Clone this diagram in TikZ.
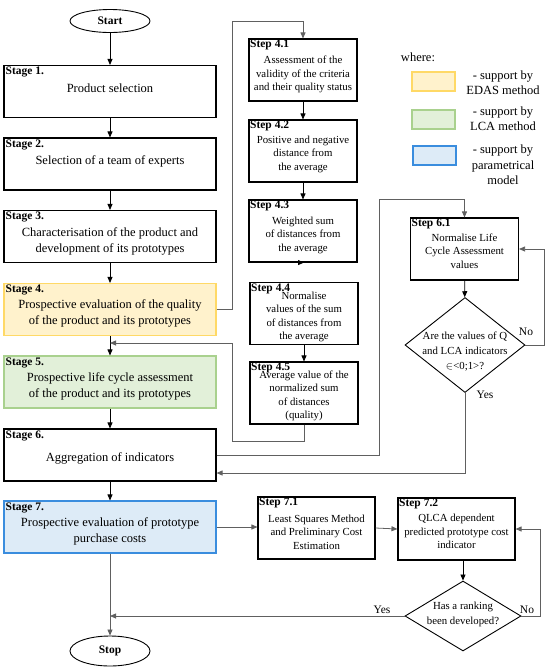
\documentclass[tikz,border=0pt]{standalone}
\usepackage{fontspec}
\setmainfont{Liberation Serif}
\usetikzlibrary{arrows.meta,shapes.geometric}
\definecolor{edasfill}{HTML}{FFF2CC}
\definecolor{edasline}{HTML}{FFD966}
\definecolor{lcafill}{HTML}{E2F0D9}
\definecolor{lcaline}{HTML}{A9D18E}
\definecolor{parfill}{HTML}{DDEBF7}
\definecolor{parline}{HTML}{3A8DDE}
\tikzset{
  stagebox/.style={draw,line width=1.1pt,minimum width=212pt,minimum height=52pt,inner sep=0pt},
  stepbox/.style={draw,line width=1.1pt,minimum width=108pt,minimum height=62pt,inner sep=0pt},
  termbox/.style={draw,ellipse,line width=0.9pt,minimum width=80pt,inner sep=0pt,font=\fontsize{11.5}{12}\selectfont\bfseries},
  askbox/.style={draw,diamond,line width=0.9pt,inner sep=0pt},
  stagelbl/.style={anchor=north west,inner sep=2pt,font=\fontsize{11.5}{12}\selectfont\bfseries},
  steplbl/.style={anchor=north west,inner sep=1.5pt,font=\fontsize{11.5}{12}\selectfont\bfseries},
  stagetxt/.style={align=center,inner sep=0pt,font=\fontsize{12.5}{16}\selectfont},
  steptxt/.style={align=center,inner sep=0pt,font=\fontsize{10.8}{13.5}\selectfont},
  asktxt/.style={align=center,inner sep=0pt,font=\fontsize{10.8}{15}\selectfont},
  keybox/.style={draw,line width=1.1pt,minimum width=43pt,minimum height=19pt,inner sep=0pt},
  keytxt/.style={align=center,inner sep=0pt,font=\fontsize{12.5}{15.5}\selectfont},
  ynlbl/.style={inner sep=0pt,font=\fontsize{11.5}{12}\selectfont},
  arr/.style={-{Triangle[length=6pt,width=5pt]},line width=0.8pt},
  link/.style={arr,gray!75!black},
}
\begin{document}
\begin{tikzpicture}[x=1pt,y=-1pt]
\useasboundingbox (0,0) rectangle (550,670);
% main column
\node[termbox,minimum height=23pt] (start) at (110,21) {Start};
\node[stagebox] (s1) at (110,91.5) {};
\node[stagebox] (s2) at (110,164) {};
\node[stagebox] (s3) at (110,236.5) {};
\node[stagebox,draw=edasline,fill=edasfill] (s4) at (110,309.5) {};
\node[stagebox,draw=lcaline,fill=lcafill] (s5) at (110,382) {};
\node[stagebox] (s6) at (110,455) {};
\node[stagebox,draw=parline,fill=parfill] (s7) at (110,527) {};
\node[termbox,minimum height=30pt] (stop) at (110,651) {Stop};
\node[stagelbl] (s1l) at (s1.north west) {Stage 1.};
\node[stagelbl] (s2l) at (s2.north west) {Stage 2.};
\node[stagelbl] (s3l) at (s3.north west) {Stage 3.};
\node[stagelbl] (s4l) at (s4.north west) {Stage 4.};
\node[stagelbl] (s5l) at (s5.north west) {Stage 5.};
\node[stagelbl] (s6l) at (s6.north west) {Stage 6.};
\node[stagelbl] (s7l) at (s7.north west) {Stage 7.};
\node[stagetxt] (s1t) at (110,88) {Product selection};
\node[stagetxt] (s2t) at (110,161) {Selection of a team of experts};
\node[stagetxt] (s3t) at (110,241) {Characterisation of the product and\\development of its prototypes};
\node[stagetxt] (s4t) at (110,313) {Prospective evaluation of the quality\\of the product and its prototypes};
\node[stagetxt] (s5t) at (110,386) {Prospective life cycle assessment\\of the product and its prototypes};
\node[stagetxt] (s6t) at (110,458) {Aggregation of indicators};
\node[stagetxt] (s7t) at (110,531) {Prospective evaluation of prototype\\purchase costs};
% steps of stage 4
\node[stepbox] (st41) at (303,70) {};
\node[stepbox] (st42) at (303,151) {};
\node[stepbox] (st43) at (303,231) {};
\node[stepbox] (st44) at (304,313.5) {};
\node[stepbox] (st45) at (304,393) {};
\node[steplbl] (st41l) at (st41.north west) {Step 4.1};
\node[steplbl] (st42l) at (st42.north west) {Step 4.2};
\node[steplbl] (st43l) at (st43.north west) {Step 4.3};
\node[steplbl] (st44l) at (st44.north west) {Step 4.4};
\node[steplbl] (st45l) at (st45.north west) {Step 4.5};
\node[steptxt] (st41t) at (303,74.5) {Assessment of the\\validity of the criteria\\and their quality status};
\node[steptxt] (st42t) at (303,154) {Positive and negative\\distance from\\the average};
\node[steptxt] (st43t) at (303,235) {Weighted sum\\of distances from\\the average};
\node[steptxt] (st44t) at (304,317) {Normalise\\values of the sum\\of distances from\\the average};
\node[steptxt] (st45t) at (304,396) {Average value of the\\normalized sum\\of distances\\(quality)};
% step 6.1 and check
\node[stepbox] (st61) at (464.5,249) {};
\node[steplbl] (st61l) at (st61.north west) {Step 6.1};
\node[steptxt] (st61t) at (464.5,251) {Normalise Life\\Cycle Assessment\\values};
\node[askbox,minimum width=120pt,minimum height=95pt] (d1) at (465,345) {};
\node[asktxt] (d1t) at (465,352) {Are the values of Q\\and LCA indicators\\$\in$<0;1>?};
% steps of stage 7
\node[stepbox,minimum width=117pt] (st71) at (316.5,528) {};
\node[stepbox,minimum width=117pt] (st72) at (456.5,529) {};
\node[steplbl] (st71l) at (st71.north west) {Step 7.1};
\node[steplbl] (st72l) at (st72.north west) {Step 7.2};
\node[steptxt] (st71t) at (316.5,532) {Least Squares Method\\and Preliminary Cost\\Estimation};
\node[steptxt] (st72t) at (456.5,531.5) {QLCA dependent\\predicted prototype cost\\indicator};
\node[askbox,minimum width=116pt,minimum height=70pt] (d2) at (463,616) {};
\node[asktxt] (d2t) at (463,614) {Has a ranking\\been developed?};
% legend
\node[keytxt] (where) at (418,57) {where:};
\node[keybox,draw=edasline,fill=edasfill] (ky) at (433.5,81.5) {};
\node[keybox,draw=lcaline,fill=lcafill] (kg) at (433.5,119.5) {};
\node[keybox,draw=parline,fill=parfill] (kb) at (434.5,155.5) {};
\node[keytxt] (kyt) at (503,82.5) {- support by\\EDAS method};
\node[keytxt] (kgt) at (503,118.5) {- support by\\LCA method};
\node[keytxt] (kbt) at (503,165) {- support by\\parametrical\\model};
% bends
\coordinate (q1) at (232,21);
\coordinate (q2) at (232,441);
\coordinate (j45) at (110,343);
\coordinate (q3) at (379,199);
% arrows
\draw[arr] (start) -- (s1);
\draw[arr] (s1) -- (s2);
\draw[arr] (s2) -- (s3);
\draw[arr] (s3) -- (s4);
\draw[arr] (s4) -- (s5);
\draw[arr] (s5) -- (s6);
\draw[arr] (s6) -- (s7);
\draw[link] (s7) -- (stop);
\draw[link] (s4.east) -| (q1) -| (st41.north);
\draw[arr] (st41) -- (st42);
\draw[arr] (st42) -- (st43);
\draw[arr] (st43.south) -- (st43.south -| st44.north);
\draw[arr] (st44) -- (st45);
\draw[link] (st45.south) |- (q2) |- (j45);
\draw[link] (s6.east) -| (q3) -| (st61.north);
\draw[arr] (st61) -- (d1);
\draw[link] (d1.east) -- ++(19,0) |- (st61.east);
\draw[link] (d1.south) |- ([yshift=-18pt]s6.east);
\draw[link] (s7.east) -- (s7.east -| st71.west);
\draw[link] (st71.east) -- (st72.west);
\draw[arr] (st72.south -| d2.north) -- (d2.north);
\draw[link] (d2.east) -- ++(19,0) |- (st72.east);
\draw[link] (d2.west) -- (d2.west -| s7.south);
\node[ynlbl] (d1no) at (526,332) {No};
\node[ynlbl] (d1yes) at (485,395) {Yes};
\node[ynlbl] (d2no) at (527,610) {No};
\node[ynlbl] (d2yes) at (382,610) {Yes};
\end{tikzpicture}
\end{document}
